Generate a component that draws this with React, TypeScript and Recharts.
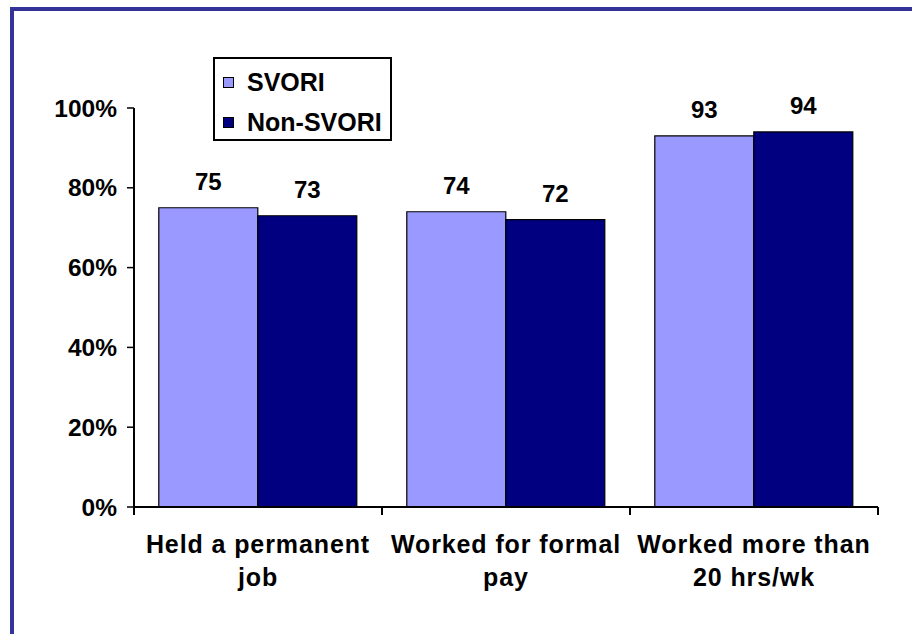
import { Bar, BarChart, LabelList, Legend, XAxis, YAxis } from "recharts";

// categories keep an explicit line break, the original labels wrap on two lines
const categories = [
  "Held a permanent\njob",
  "Worked for formal\npay",
  "Worked more than\n20 hrs/wk",
];
const svori = [75, 74, 93];
const nonSvori = [73, 72, 94];
const yTicks = [0, 20, 40, 60, 80, 100];
const seriesOrder = ["svori", "nonSvori"];

const FONT = "'Liberation Sans', Arial, sans-serif";
const LIGHT = "#9999FF";
const NAVY = "#000080";
const FRAME = "#333399";

const chartData = categories.map((name, i) => ({
  name,
  svori: svori[i],
  nonSvori: nonSvori[i],
}));

function CategoryTick(props: any) {
  const { x, y, payload, index } = props;
  const half = payload?.offset ?? 0;
  const lines = String(payload.value).split("\n");
  const isLast = index === categories.length - 1;
  return (
    <g>
      <line x1={x - half} x2={x - half} y1={y} y2={y + 8} stroke="#000" strokeWidth={2} />
      {isLast && (
        <line x1={x + half} x2={x + half} y1={y} y2={y + 8} stroke="#000" strokeWidth={2} />
      )}
      <text
        x={x}
        y={y + 46}
        textAnchor="middle"
        fill="#000"
        fontSize={25}
        fontWeight="bold"
        letterSpacing={0.9}
        fontFamily={FONT}
      >
        {lines.map((line, i) => (
          <tspan key={i} x={x} dy={i === 0 ? 0 : 33}>
            {line}
          </tspan>
        ))}
      </text>
    </g>
  );
}

function LegendBox({ payload }: any) {
  const items = [...(payload || [])].sort(
    (a: any, b: any) => seriesOrder.indexOf(a.dataKey) - seriesOrder.indexOf(b.dataKey)
  );
  return (
    <div
      style={{
        width: 179,
        height: 84,
        boxSizing: "border-box",
        border: "2px solid #000",
        background: "#fff",
        paddingTop: 3,
        fontFamily: FONT,
      }}
    >
      {items.map((p: any) => (
        <div key={p.value} style={{ height: 40, display: "flex", alignItems: "center" }}>
          <span
            style={{
              width: 11,
              height: 11,
              boxSizing: "border-box",
              marginLeft: 8,
              marginRight: 13,
              background: p.color,
              border: "1px solid #000",
            }}
          />
          <span style={{ fontSize: 25, fontWeight: "bold", color: "#000", lineHeight: 1 }}>
            {p.value}
          </span>
        </div>
      ))}
    </div>
  );
}

export default function App() {
  return (
    <div
      style={{
        position: "fixed",
        top: 0,
        left: 0,
        width: 912,
        height: 634,
        overflow: "hidden",
        background: "#fff",
        fontFamily: FONT,
      }}
    >
      {/* slide frame: a thin line on the left and top edges only */}
      <div
        style={{
          position: "absolute",
          left: 10,
          top: 7,
          width: 4,
          height: 700,
          background: FRAME,
        }}
      />
      <div
        style={{
          position: "absolute",
          left: 10,
          top: 7,
          width: 1000,
          height: 4,
          background: FRAME,
        }}
      />
      <div style={{ position: "absolute", left: 0, top: 0 }}>
        <BarChart
          width={912}
          height={634}
          data={chartData}
          margin={{ top: 108, right: 34, bottom: 0, left: 0 }}
          barCategoryGap="10%"
          barGap={0}
        >
          <XAxis
            dataKey="name"
            height={127}
            interval={0}
            tickSize={0}
            tickMargin={0}
            tickLine={false}
            axisLine={{ stroke: "#000", strokeWidth: 2 }}
            tick={<CategoryTick />}
          />
          <YAxis
            width={134}
            domain={[0, 100]}
            ticks={yTicks}
            interval={0}
            tickSize={7}
            tickMargin={10}
            tickFormatter={(v: number) => `${v}%`}
            tick={{ fill: "#000", fontSize: 24.5, fontWeight: "bold", fontFamily: FONT }}
            tickLine={{ stroke: "#000", strokeWidth: 1.5 }}
            axisLine={{ stroke: "#000", strokeWidth: 2 }}
          />
          <Legend
            layout="horizontal"
            verticalAlign="middle"
            align="center"
            itemSorter={null}
            wrapperStyle={{ left: 213, top: 57, width: 179, height: 84 }}
            content={<LegendBox />}
          />
          <Bar
            dataKey="svori"
            name="SVORI"
            fill={LIGHT}
            stroke="#000"
            strokeWidth={1.2}
            isAnimationActive={false}
          >
            <LabelList
              dataKey="svori"
              position="top"
              offset={18}
              fill="#000"
              fontSize={24}
              fontWeight="bold"
              fontFamily={FONT}
            />
          </Bar>
          <Bar
            dataKey="nonSvori"
            name="Non-SVORI"
            fill={NAVY}
            stroke="#000"
            strokeWidth={1.2}
            isAnimationActive={false}
          >
            <LabelList
              dataKey="nonSvori"
              position="top"
              offset={18}
              fill="#000"
              fontSize={24}
              fontWeight="bold"
              fontFamily={FONT}
            />
          </Bar>
        </BarChart>
      </div>
    </div>
  );
}
